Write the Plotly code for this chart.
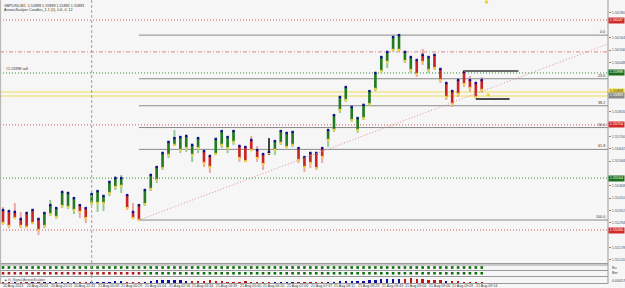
import plotly.graph_objects as go

# ---------------- data ----------------
bar_open = [1.55354, 1.55349, 1.55345, 1.55312, 1.55340, 1.55354, 1.55312, 1.55279, 1.55335, 1.55321,
            1.55373, 1.55368, 1.55354, 1.55377, 1.55363, 1.55387, 1.55387, 1.55387, 1.55434, 1.55462,
            1.55467, 1.55424, 1.55345, 1.55377, 1.55382, 1.55453, 1.55495, 1.55551, 1.55613, 1.55660,
            1.55636, 1.55645, 1.55613, 1.55645, 1.55631, 1.55608, 1.55617, 1.55660, 1.55645, 1.55674,
            1.55655, 1.55650, 1.55683, 1.55636, 1.55617, 1.55627, 1.55636, 1.55669, 1.55650, 1.55660,
            1.55645, 1.55603, 1.55622, 1.55622, 1.55645, 1.55683, 1.55730, 1.55824, 1.55871, 1.55777,
            1.55730, 1.55786, 1.55852, 1.55923, 1.56007, 1.56050, 1.56106, 1.56106, 1.56054, 1.56012,
            1.56059, 1.56083, 1.56012, 1.56083, 1.56017, 1.55951, 1.55913, 1.55965, 1.56003, 1.55965,
            1.55951, 1.55965]
bar_high = [1.55368, 1.55349, 1.55387, 1.55345, 1.55345, 1.55359, 1.55316, 1.55345, 1.55401, 1.55368,
            1.55443, 1.55439, 1.55415, 1.55382, 1.55368, 1.55434, 1.55448, 1.55424, 1.55490, 1.55514,
            1.55519, 1.55429, 1.55387, 1.55382, 1.55453, 1.55523, 1.55561, 1.55627, 1.55678, 1.55730,
            1.55702, 1.55707, 1.55664, 1.55697, 1.55636, 1.55613, 1.55692, 1.55730, 1.55702, 1.55730,
            1.55660, 1.55655, 1.55702, 1.55655, 1.55622, 1.55692, 1.55683, 1.55730, 1.55721, 1.55725,
            1.55650, 1.55608, 1.55627, 1.55627, 1.55650, 1.55735, 1.55805, 1.55890, 1.55937, 1.55843,
            1.55791, 1.55852, 1.55918, 1.56003, 1.56078, 1.56101, 1.56172, 1.56176, 1.56101, 1.56078,
            1.56064, 1.56111, 1.56078, 1.56087, 1.56021, 1.55956, 1.55918, 1.55970, 1.56012, 1.55984,
            1.55956, 1.55979]
bar_low = [1.55284, 1.55269, 1.55312, 1.55269, 1.55269, 1.55288, 1.55237, 1.55269, 1.55326, 1.55312,
           1.55363, 1.55359, 1.55335, 1.55316, 1.55293, 1.55377, 1.55345, 1.55349, 1.55420, 1.55448,
           1.55434, 1.55354, 1.55312, 1.55307, 1.55373, 1.55443, 1.55481, 1.55542, 1.55598, 1.55655,
           1.55622, 1.55627, 1.55580, 1.55622, 1.55556, 1.55528, 1.55613, 1.55645, 1.55622, 1.55660,
           1.55580, 1.55580, 1.55631, 1.55580, 1.55542, 1.55613, 1.55613, 1.55660, 1.55645, 1.55650,
           1.55575, 1.55533, 1.55551, 1.55542, 1.55575, 1.55650, 1.55721, 1.55810, 1.55862, 1.55768,
           1.55716, 1.55777, 1.55843, 1.55913, 1.55998, 1.56021, 1.56097, 1.56097, 1.56045, 1.55998,
           1.55979, 1.56036, 1.55998, 1.56012, 1.55951, 1.55871, 1.55838, 1.55885, 1.55932, 1.55909,
           1.55880, 1.55904]
bar_close = [1.55293, 1.55279, 1.55316, 1.55279, 1.55274, 1.55293, 1.55260, 1.55340, 1.55377, 1.55363,
             1.55439, 1.55434, 1.55410, 1.55345, 1.55316, 1.55429, 1.55443, 1.55420, 1.55486, 1.55504,
             1.55504, 1.55363, 1.55316, 1.55307, 1.55448, 1.55519, 1.55556, 1.55622, 1.55674, 1.55692,
             1.55697, 1.55702, 1.55660, 1.55692, 1.55575, 1.55556, 1.55688, 1.55725, 1.55697, 1.55725,
             1.55598, 1.55584, 1.55636, 1.55598, 1.55570, 1.55622, 1.55678, 1.55725, 1.55716, 1.55721,
             1.55589, 1.55556, 1.55575, 1.55551, 1.55603, 1.55730, 1.55800, 1.55885, 1.55932, 1.55838,
             1.55786, 1.55848, 1.55913, 1.55998, 1.56073, 1.56097, 1.56167, 1.56176, 1.56097, 1.56073,
             1.55993, 1.56050, 1.56073, 1.56021, 1.55965, 1.55885, 1.55852, 1.55899, 1.55946, 1.55927,
             1.55885, 1.55918]

# indicator sub-windows
signal_row1 = "gggggggggggggggggggggggggggggggggggggggggggggggggggggggggggggggggggggggggggggggggg"
signal_row2 = "rrrrrrrrrrrrrrrrrrrrrrrrgggggggggggggggggggggggggggggggggggggggggggggggggggggggggg"
hist_values = [-0.00008, -0.00010, 0.00008, -0.00010, -0.00009, 0.00010, -0.00012, 0.00010, 0.00016, 0.00011,
               0.00018, 0.00017, 0.00012, -0.00010, -0.00012, 0.00013, 0.00018, 0.00017, 0.00022, 0.00026,
               0.00028, -0.00012, -0.00018, -0.00020, 0.00020, 0.00030, 0.00038, 0.00042, 0.00048, 0.00046,
               0.00040, 0.00032, -0.00028, -0.00030, -0.00036, -0.00038, -0.00030, -0.00028, -0.00022, -0.00020,
               -0.00022, -0.00028, -0.00020, -0.00018, -0.00020, -0.00010, 0.00016, 0.00020, 0.00018, 0.00016,
               -0.00010, -0.00016, -0.00018, -0.00016, -0.00010, 0.00018, 0.00020, 0.00026, 0.00028, 0.00030,
               0.00032, 0.00036, 0.00040, 0.00046, 0.00050, 0.00056, 0.00058, 0.00052, -0.00060, -0.00066,
               -0.00060, -0.00052, -0.00048, -0.00042, -0.00038, 0.00030, -0.00030, -0.00026, -0.00022, -0.00018,
               -0.00016, -0.00010]

# Fibonacci retracement anchors (bar index, price)
fib_start_bar = 23
fib_high = 1.56176
fib_low = 1.55307
fib_ratios = [0.0, 23.6, 38.2, 50.0, 61.8, 100.0]

# trend line anchors
trend_bars = [23, 102.36]
trend_prices = [1.55307, 1.56134]

# horizontal levels
level_prices = [1.56247, 1.56097, 1.55998, 1.55909, 1.55890, 1.55754, 1.55504, 1.55260]
level_kinds = ["red_dot", "red_dashdot", "green_dot", "yellow", "yellow", "red_dot", "green_dot", "red_dot"]

# short box segments near the last bars
seg_bars = [[78, 87.2], [80, 85.7]]
seg_prices = [1.56007, 1.55876]

# small arrow dots
arrow_bars = [81.8, 82.1]
arrow_prices = [1.56332, 1.55895]

# vertical separator bar
vline_bar = 15

# price axis
price_ticks = [1.56280, 1.56222, 1.56164, 1.56106, 1.56048, 1.55990, 1.55932, 1.55874, 1.55816, 1.55758,
               1.55700, 1.55642, 1.55584, 1.55526, 1.55468, 1.55410, 1.55352, 1.55294, 1.55236, 1.55178,
               1.55120]
tag_prices = [1.56247, 1.55998, 1.55909, 1.55893, 1.55754, 1.55504, 1.55260]
tag_kinds = ["red", "green", "yellow", "gray", "red", "green", "red"]

# time axis
time_bars = [0, 4, 8, 12, 16, 20, 24, 28, 32, 36, 40, 44, 48, 52, 56, 60, 64, 68, 72, 76, 80]
time_labels = ["20 Aug 2013", "20 Aug 20:01", "20 Aug 21:21", "20 Aug 22:31", "21 Aug 00:09",
               "21 Aug 00:29", "21 Aug 01:04", "21 Aug 02:16", "21 Aug 03:34", "21 Aug 03:39",
               "21 Aug 05:00", "21 Aug 06:10", "21 Aug 07:00", "21 Aug 07:37", "21 Aug 08:11",
               "21 Aug 08:23", "21 Aug 08:43", "21 Aug 09:00", "21 Aug 09:06", "21 Aug 09:09",
               "21 Aug 09:14"]

title_line1 = "GBPUSD,M1  1.55899 1.55899 1.55892 1.55893"
title_line2 = "ArrowsScalper Candles_1.1 (1), 0.6, 0, 12"
sell_label = "#1.55998 sell"
sub3_label = "fx_Signal ArrowsScalper"
sub_right_labels = ["Bu", "Bm", "0.00057"]

# ---------------- styling / layout ----------------
W, H = 625, 288
BG = "#f6f6f6"
FONT = "Liberation Sans"
FS = 3.7
X_RANGE = [-0.51, 102.36]
Y_RANGE = [1.55105, 1.56341]
PX_PER_PRICE = 263 / (Y_RANGE[1] - Y_RANGE[0])

def py(p):  # pixel row -> paper fraction
    return 1 - p / H

fig = go.Figure()

groups = {
    "g": {"body": "#237a23", "wick": "#96c896"},
    "r": {"body": "#c82424", "wick": "#eaa8a8"},
    "k": {"body": "#222222", "wick": "#444444"},
}
gx = {k: ([], [], [], []) for k in groups}
top_x, top_y, bot_x, bot_y = [], [], [], []
for i in range(len(bar_open)):
    o, h, l, c = bar_open[i], bar_high[i], bar_low[i], bar_close[i]
    if abs(c - o) < 0.00008:
        k = "k"
    elif c > o:
        k = "g"
    else:
        k = "r"
    wx, wy, bx, by = gx[k]
    wx += [i, i, None]; wy += [l, h, None]
    bx += [i, i, None]; by += [min(o, c), max(o, c), None]
    top_x.append(i); top_y.append(max(o, c))
    bot_x.append(i); bot_y.append(min(o, c))

for k, st in groups.items():
    wx, wy, bx, by = gx[k]
    fig.add_trace(go.Scatter(x=wx, y=wy, mode="lines", line=dict(color=st["wick"], width=2),
                             hoverinfo="skip", showlegend=False))
for k, st in groups.items():
    wx, wy, bx, by = gx[k]
    fig.add_trace(go.Scatter(x=bx, y=by, mode="lines", line=dict(color=st["body"], width=2.6),
                             hoverinfo="skip", showlegend=False))

fig.add_trace(go.Scatter(x=bot_x, y=bot_y, mode="markers",
                         marker=dict(symbol="square", size=2.4, color="#f0d040", line=dict(width=0)),
                         showlegend=False, hoverinfo="skip"))
fig.add_trace(go.Scatter(x=top_x, y=top_y, mode="markers",
                         marker=dict(symbol="square", size=2.4, color="#10108a", line=dict(width=0)),
                         showlegend=False, hoverinfo="skip"))

# trend line
fig.add_trace(go.Scatter(x=trend_bars, y=trend_prices, mode="lines",
                         line=dict(color="#e09090", width=1, dash="1px,2px"), showlegend=False, hoverinfo="skip"))

# arrow dots
fig.add_trace(go.Scatter(x=arrow_bars, y=arrow_prices, mode="markers",
                         marker=dict(size=3.5, color="#f0d040", line=dict(width=0)), showlegend=False, hoverinfo="skip"))

# sub-windows 1 & 2: signal squares
sig_colors = {"g": "#0c6e0c", "r": "#b01818"}
for row, axis in ((signal_row1, "y2"), (signal_row2, "y3")):
    fig.add_trace(go.Scatter(x=list(range(len(row))), y=[0] * len(row), yaxis=axis, mode="markers",
                             marker=dict(symbol="square", size=2.6, color=[sig_colors[s] for s in row],
                                         line=dict(width=0)),
                             showlegend=False, hoverinfo="skip"))

# sub-window 3: histogram
fig.add_trace(go.Bar(x=list(range(len(hist_values))), y=[abs(v) for v in hist_values], yaxis="y4",
                     marker=dict(color=["#1010a0" if v > 0 else "#c01818" for v in hist_values], line=dict(width=0)),
                     width=0.4, showlegend=False, hoverinfo="skip"))

shapes = []
level_style = {
    "red_dot": dict(color="#d65a5a", width=1, dash="1px,2px"),
    "red_dashdot": dict(color="#d88a8a", width=1, dash="4px,2px,1px,2px"),
    "green_dot": dict(color="#2f8f2f", width=1, dash="1px,2px"),
    "yellow": dict(color="#f0e48a", width=1.5, dash="solid"),
}
for p, k in zip(level_prices, level_kinds):
    shapes.append(dict(type="line", xref="paper", yref="y", x0=0, x1=1, y0=p, y1=p, line=level_style[k], layer="below"))

annotations = []
for r in fib_ratios:
    p = fib_high - (fib_high - fib_low) * r / 100.0
    shapes.append(dict(type="line", xref="x", yref="y", x0=fib_start_bar, x1=X_RANGE[1], y0=p, y1=p,
                       line=dict(color="#8a8a8a", width=1), layer="below"))
    annotations.append(dict(xref="paper", yref="y", x=0.997, y=p, text="%.1f" % r, showarrow=False,
                            xanchor="right", yanchor="bottom", font=dict(size=FS, color="#333", family=FONT),
                            borderpad=0))

for (b0, b1), p, col, w in zip(seg_bars, seg_prices, ["#6a6a6a", "#111111"], [2, 1.6]):
    shapes.append(dict(type="line", xref="x", yref="y", x0=b0, x1=b1, y0=p, y1=p, line=dict(color=col, width=w)))

# vertical separator
shapes.append(dict(type="line", xref="x", yref="paper", x0=vline_bar, x1=vline_bar, y0=py(283), y1=1,
                   line=dict(color="#a0a0a0", width=1, dash="3px,2px")))
# frame lines
for r in (263.5, 265, 270.5, 276.5, 283.5):
    shapes.append(dict(type="line", xref="paper", yref="paper", x0=0, x1=1, y0=py(r), y1=py(r),
                       line=dict(color="#9a9a9a", width=1)))
shapes.append(dict(type="line", xref="paper", yref="paper", x0=1, x1=1, y0=py(284), y1=1,
                   line=dict(color="#9a9a9a", width=1)))
shapes.append(dict(type="line", xref="paper", yref="paper", x0=0.001, x1=0.001, y0=py(284), y1=1,
                   line=dict(color="#b0b0b0", width=1)))

# price tags on axis (ticks hidden under tags are dropped, as the terminal does)
tag_style = {"red": ("#d42a2a", "#ffffff"), "green": ("#1d6e1d", "#ffffff"),
             "yellow": ("#f2df3a", "#333333"), "gray": ("#8a8a8a", "#ffffff")}
for p, k in zip(tag_prices, tag_kinds):
    bg, fg = tag_style[k]
    annotations.append(dict(xref="paper", yref="y", x=1.0, y=p, text="%.5f" % p, showarrow=False,
                            xanchor="left", yanchor="middle", bgcolor=bg, borderpad=0,
                            font=dict(size=FS, color=fg, family=FONT), width=15, height=4.5))
shown_ticks = [t for t in price_ticks if all(abs(t - p) * PX_PER_PRICE > 6 for p in tag_prices)]

# title text
annotations.append(dict(xref="paper", yref="paper", x=0.004, y=py(1.5), text=title_line1, showarrow=False,
                        xanchor="left", yanchor="top", font=dict(size=FS, color="#333", family=FONT)))
annotations.append(dict(xref="paper", yref="paper", x=0.004, y=py(6.5), text=title_line2, showarrow=False,
                        xanchor="left", yanchor="top", font=dict(size=FS, color="#333", family=FONT)))
annotations.append(dict(xref="paper", yref="y", x=0.006, y=level_prices[2], text=sell_label, showarrow=False,
                        xanchor="left", yanchor="bottom", font=dict(size=FS, color="#333", family=FONT)))
annotations.append(dict(xref="paper", yref="paper", x=0.004, y=py(279.5), text="\u25b2 " + sub3_label, showarrow=False,
                        xanchor="left", yanchor="middle", font=dict(size=3.4, color="#555", family=FONT)))
for t, r in zip(sub_right_labels, (267.5, 273, 280.5)):
    annotations.append(dict(xref="paper", yref="paper", x=1.003, y=py(r), text=t, showarrow=False,
                            xanchor="left", yanchor="middle", font=dict(size=FS, color="#444", family=FONT)))

# time labels
for b, t in zip(time_bars, time_labels):
    annotations.append(dict(xref="x", yref="paper", x=b - 0.3, y=py(286), text=t, showarrow=False,
                            xanchor="left", yanchor="middle", font=dict(size=3.6, color="#444", family=FONT)))

fig.update_layout(
    width=W, height=H, margin=dict(l=0, r=15, t=0, b=0),
    paper_bgcolor=BG, plot_bgcolor=BG, showlegend=False, bargap=0,
    font=dict(family=FONT, size=FS, color="#444"),
    xaxis=dict(range=X_RANGE, showgrid=False, zeroline=False, showticklabels=False, showline=False,
               fixedrange=True),
    yaxis=dict(domain=[py(263), 1], range=Y_RANGE, side="right", showgrid=False, zeroline=False,
               tickvals=shown_ticks, ticktext=["%.5f" % v for v in shown_ticks], ticks="outside", ticklen=2,
               tickcolor="#888", tickfont=dict(size=FS, color="#555", family=FONT), showline=False),
    yaxis2=dict(domain=[py(270), py(265)], range=[-1, 1], visible=False, anchor="x"),
    yaxis3=dict(domain=[py(276), py(270.5)], range=[-1, 1], visible=False, anchor="x"),
    yaxis4=dict(domain=[py(283), py(276.5)], range=[0, 0.0008], visible=False, anchor="x"),
    shapes=shapes, annotations=annotations,
)

fig.write_html("out.html")
